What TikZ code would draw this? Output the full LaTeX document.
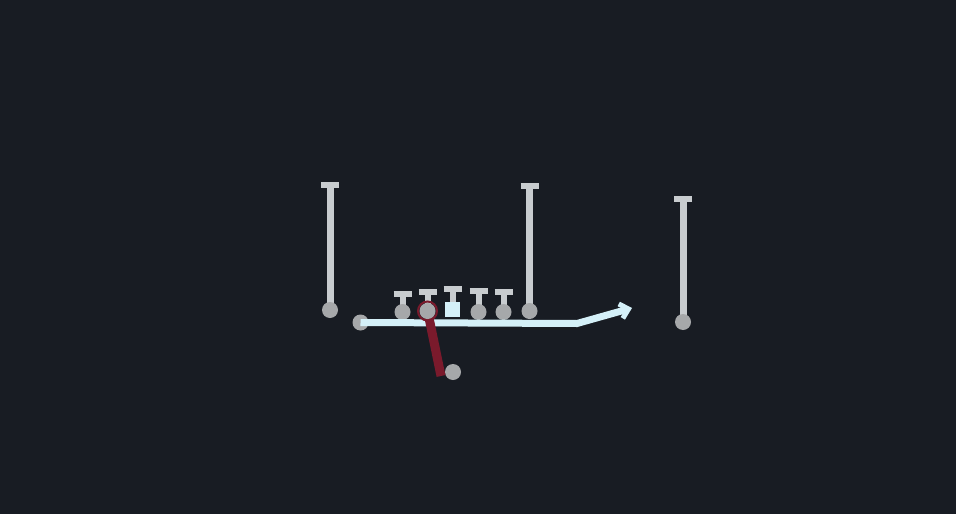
\documentclass[tikz,border=0pt]{standalone}
\usetikzlibrary{arrows.meta}
\definecolor{bg}{HTML}{181C23}
\definecolor{stem}{HTML}{C8CCCF}
\definecolor{dot}{HTML}{A6A8AA}
\definecolor{route}{HTML}{D4F0F8}
\definecolor{block}{HTML}{7A1A2C}
\tikzset{
  recv/.style={draw=stem, line width=7pt},
  bar/.style={draw=stem, line width=6.5pt},
  player/.style={circle, fill=dot, inner sep=0pt, minimum size=16pt},
  routeline/.style={draw=route, line width=7pt},
}
\begin{document}
\begin{tikzpicture}[x=1pt,y=-1pt]
\fill[bg] (0,0) rectangle (956,514);
\useasboundingbox (0,0) rectangle (956,514);
% receivers
\foreach \n/\x/\yt/\yb in {wl/330/185/310, wm/529.5/186/311, wr/683/199/322}{
  \draw[recv] (\x,\yt) -- (\x,\yb);
  \draw[bar] (\x-9,\yt) -- (\x+9,\yt);
  \node[player] (\n) at (\x,\yb) {};
}
% linemen
\foreach \n/\x/\yt in {lt/402.5/294, lg/427.5/292, rg/478.5/291, rt/503.5/292}{
  \draw[recv, line width=6pt] (\x,\yt) -- (\x,311);
  \draw[bar] (\x-9,\yt) -- (\x+9,\yt);
}
\node[player] (ltc) at (402.5,312) {};
\node[player] (rgc) at (478.5,312) {};
\node[player] (rtc) at (503.5,312) {};
% center
\draw[recv, line width=6pt] (452.5,289) -- (452.5,305);
\draw[bar] (443.5,289) -- (461.5,289);
\node[fill=route, inner sep=0pt, minimum size=15pt] (c) at (452.5,309.5) {};
% motion route
\node[player] (m) at (360.5,322.5) {};
\coordinate (bend) at (577,323.5);
\coordinate (tip) at (632,308);
\draw[routeline, -{Straight Barb[length=8pt,width=15pt,line width=5pt]}] (m.center) -- (bend) -- (tip);
% block
\node[player] (rb) at (453,372) {};
\draw[block, line width=9pt] (428,313) -- (441,376);
\draw[block, line width=2pt] (427.5,311) circle (9.5);
\node[player] (lgc) at (427.5,311) {};
\end{tikzpicture}
\end{document}
